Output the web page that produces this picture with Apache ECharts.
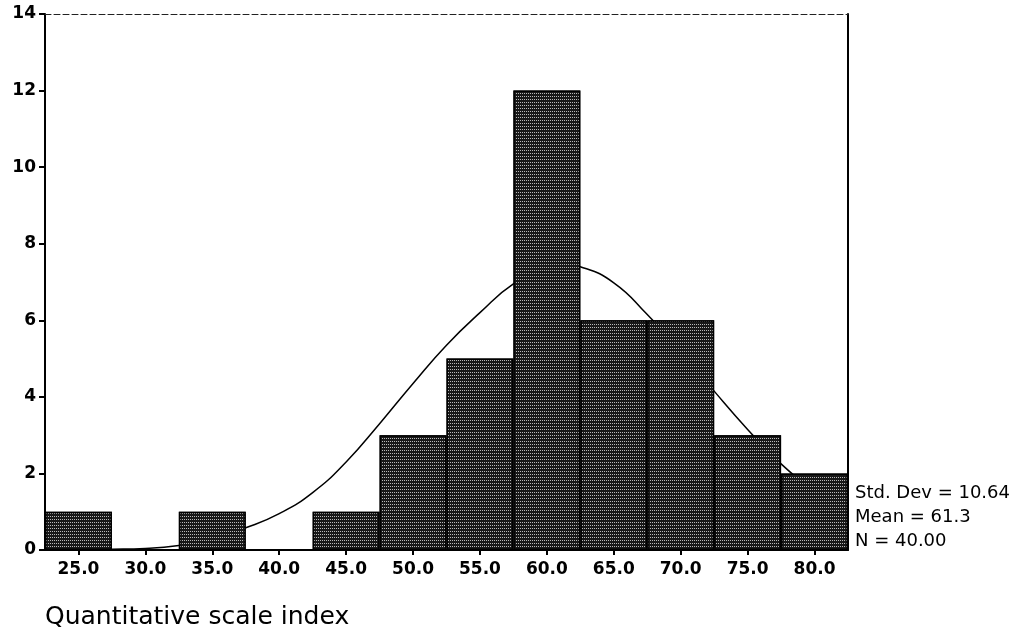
<!DOCTYPE html>
<html>
<head>
<meta charset="utf-8">
<script src="https://cdn.jsdelivr.net/npm/echarts@6/dist/echarts.min.js"></script>
<style>
html,body{margin:0;padding:0;background:#fff;}
#chart{width:1024px;height:635px;}
</style>
</head>
<body>
<div id="chart"></div>
<script>
// Histogram bins (midpoints) and counts
const binLabels = ['25.0','30.0','35.0','40.0','45.0','50.0','55.0','60.0','65.0','70.0','75.0','80.0'];
const counts = [1, 0, 1, 0, 1, 3, 5, 12, 6, 6, 3, 2];
// Fitted normal curve
const curveX = [22.5, 27.5, 30.0, 32.5, 35.0, 37.5, 40.0, 42.5, 45.0, 47.5, 50.0, 52.5, 55.0, 57.5, 60.0, 61.25, 62.5, 65.0, 67.5, 70.0, 72.5, 75.0, 77.5, 80.0, 82.5];
const curveY = [0.0, 0.02, 0.04, 0.12, 0.3, 0.58, 0.95, 1.5, 2.3, 3.3, 4.35, 5.35, 6.2, 6.95, 7.38, 7.47, 7.4, 6.98, 6.15, 5.2, 4.15, 3.15, 2.25, 1.55, 1.0];
const statLines = ['Std. Dev = 10.64', 'Mean = 61.3', 'N = 40.00'];
const xTitle = 'Quantitative scale index';

const chart = echarts.init(document.getElementById('chart'), null, {renderer: 'canvas'});
const tickFont = {fontFamily: 'DejaVu Sans', fontWeight: 'bold', fontSize: 17, color: '#000'};

const option = {
  backgroundColor: '#fff',
  animation: false,
  grid: {left: 45, right: 176, top: 14, bottom: 85, containLabel: false},
  xAxis: [
    {
      type: 'category',
      data: binLabels,
      position: 'bottom',
      boundaryGap: true,
      axisLine: {show: true, lineStyle: {color: '#000', width: 2}},
      axisTick: {show: true, alignWithLabel: true, length: 5, lineStyle: {color: '#000', width: 2}},
      axisLabel: Object.assign({margin: 11}, tickFont),
      splitLine: {show: false}
    },
    {
      type: 'value',
      min: 22.5, max: 82.5,
      position: 'top',
      axisLine: {show: true, onZero: false, lineStyle: {color: '#222', width: 1, type: [6, 3]}},
      axisTick: {show: false},
      axisLabel: {show: false},
      splitLine: {show: false}
    }
  ],
  yAxis: [
    {
      type: 'value',
      min: 0, max: 14, interval: 2,
      axisLine: {show: true, lineStyle: {color: '#000', width: 2}},
      axisTick: {show: true, inside: false, length: 6, lineStyle: {color: '#000', width: 2}},
      axisLabel: Object.assign({margin: 9}, tickFont),
      splitLine: {show: false}
    },
    {
      type: 'value',
      min: 0, max: 14, interval: 2,
      position: 'right',
      axisLine: {show: true, lineStyle: {color: '#000', width: 2}},
      axisTick: {show: false},
      axisLabel: {show: false},
      splitLine: {show: false}
    }
  ],
  series: [
    {
      type: 'line',
      xAxisIndex: 1,
      yAxisIndex: 0,
      data: curveX.map((x, i) => [x, curveY[i]]),
      smooth: 0.5,
      showSymbol: false,
      symbol: 'none',
      lineStyle: {color: '#000', width: 1.5},
      z: 1
    },
    {
      type: 'bar',
      xAxisIndex: 0,
      yAxisIndex: 0,
      data: counts,
      barCategoryGap: '0%',
      itemStyle: {
        color: '#181818',
        borderColor: '#000',
        borderWidth: 1.5,
        decal: {
          symbol: 'rect',
          symbolSize: 1,
          color: 'rgba(255,255,255,0.7)',
          backgroundColor: '#181818',
          dashArrayX: [1, 1],
          dashArrayY: [1, 2]
        }
      },
      z: 2
    }
  ],
  graphic: [
    {
      type: 'text', left: 855, top: 484,
      style: {text: statLines[0], font: '18px "DejaVu Sans"', fill: '#000'}
    },
    {
      type: 'text', left: 855, top: 508,
      style: {text: statLines[1], font: '18px "DejaVu Sans"', fill: '#000'}
    },
    {
      type: 'text', left: 855, top: 532,
      style: {text: statLines[2], font: '18px "DejaVu Sans"', fill: '#000'}
    },
    {
      type: 'text', left: 45, top: 605,
      style: {text: xTitle, font: '25px "DejaVu Sans"', fill: '#000'}
    }
  ]
};
chart.setOption(option);
</script>
</body>
</html>
